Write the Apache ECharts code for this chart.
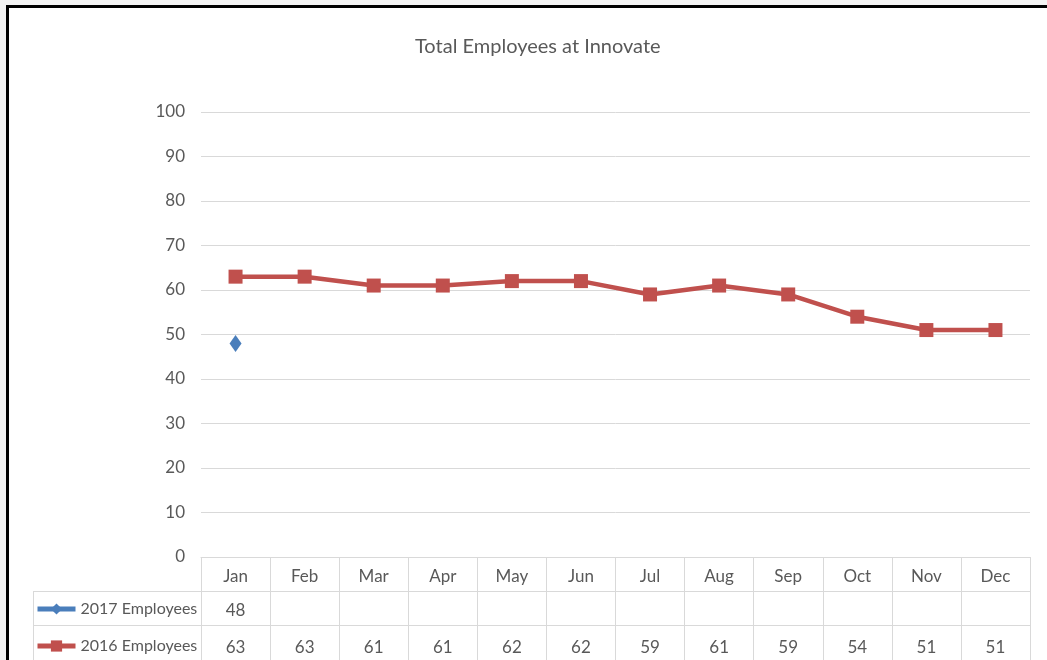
<!DOCTYPE html>
<html><head><meta charset="utf-8">
<script src="https://cdn.jsdelivr.net/npm/echarts@6/dist/echarts.min.js"></script>
<style>html,body{margin:0;padding:0;background:#fff}#c{width:1047px;height:660px}</style>
</head><body><div id="c"></div>
<script>
const months = ['Jan','Feb','Mar','Apr','May','Jun','Jul','Aug','Sep','Oct','Nov','Dec'];
const employees2017 = [48, null, null, null, null, null, null, null, null, null, null, null];
const employees2016 = [63, 63, 61, 61, 62, 62, 59, 61, 59, 54, 51, 51];
const yTicks = {min: 0, max: 100, interval: 10};
const seriesNames = ['2017 Employees', '2016 Employees'];

const FONT = 'Lato, "Open Sans", sans-serif';
const TXT = '#595959';
const GRID = '#d9d9d9';
const C2017 = '#4a7ebb';
const C2016 = '#c0504d';

const chart = echarts.init(document.getElementById('c'), null, {renderer: 'canvas'});
const rowH = 34;
const fmt = arr => (v, i) => (arr[i] === null || arr[i] === undefined) ? '' : String(arr[i]);
const legendCommon = {
  orient: 'horizontal', left: 35, padding: 0,
  itemWidth: 38, itemHeight: 14, itemGap: 5,
  textStyle: {fontFamily: FONT, fontSize: 16, color: TXT},
  lineStyle: {width: 5}
};

chart.setOption({
  backgroundColor: '#ffffff',
  animation: false,
  title: {
    text: 'Total Employees at Innovate',
    left: 410, top: 32,
    textStyle: {fontFamily: FONT, fontSize: 20, fontWeight: 'normal', color: TXT}
  },
  legend: [
    Object.assign({}, legendCommon, {top: 601, data: [seriesNames[0]]}),
    Object.assign({}, legendCommon, {top: 638, data: [seriesNames[1]]})
  ],
  grid: {left: 201, right: 17, top: 112, bottom: 103, containLabel: false},
  xAxis: [
    {
      type: 'category', data: months, position: 'bottom', boundaryGap: true,
      axisLine: {show: true, lineStyle: {color: GRID, width: 1}},
      axisTick: {show: true, interval: 0, length: 103, lineStyle: {color: GRID, width: 1}},
      axisLabel: {interval: 0, margin: 20, verticalAlign: 'middle', fontFamily: FONT, fontSize: 17, color: TXT},
      splitLine: {show: false}
    },
    {
      type: 'category', data: months, position: 'bottom', offset: rowH, boundaryGap: true,
      axisLine: {show: true, lineStyle: {color: GRID, width: 1}},
      axisTick: {show: false},
      axisLabel: {interval: 0, margin: 20, verticalAlign: 'middle', fontFamily: FONT, fontSize: 17, color: TXT, formatter: fmt(employees2017)},
      splitLine: {show: false}
    },
    {
      type: 'category', data: months, position: 'bottom', offset: rowH * 2, boundaryGap: true,
      axisLine: {show: true, lineStyle: {color: GRID, width: 1}},
      axisTick: {show: false},
      axisLabel: {interval: 0, margin: 23, verticalAlign: 'middle', fontFamily: FONT, fontSize: 17, color: TXT, formatter: fmt(employees2016)},
      splitLine: {show: false}
    }
  ],
  yAxis: {
    type: 'value', min: yTicks.min, max: yTicks.max, interval: yTicks.interval,
    axisLine: {show: false}, axisTick: {show: false},
    axisLabel: {margin: 16, fontFamily: FONT, fontSize: 17, color: TXT},
    splitLine: {show: true, lineStyle: {color: GRID, width: 1}}
  },
  series: [
    {
      name: seriesNames[0], type: 'line', xAxisIndex: 0, data: employees2017,
      symbol: 'diamond', symbolSize: [12, 17], showSymbol: true, showAllSymbol: true,
      connectNulls: false,
      itemStyle: {color: C2017},
      lineStyle: {color: C2017, width: 4.5}
    },
    {
      name: seriesNames[1], type: 'line', xAxisIndex: 0, data: employees2016,
      symbol: 'rect', symbolSize: 14, showSymbol: true, showAllSymbol: true,
      itemStyle: {color: C2016},
      lineStyle: {color: C2016, width: 4.5}
    }
  ],
  graphic: [
    {type: 'rect', shape: {x: 0, y: 0, width: 1047, height: 5}, style: {fill: '#f3f3f3'}, silent: true},
    {type: 'rect', shape: {x: 0, y: 0, width: 6, height: 660}, style: {fill: '#f3f3f3'}, silent: true},
    {type: 'rect', shape: {x: 6, y: 5, width: 1041, height: 3}, style: {fill: '#000'}, silent: true},
    {type: 'rect', shape: {x: 6, y: 5, width: 3, height: 655}, style: {fill: '#000'}, silent: true},
    {type: 'line', shape: {x1: 33, y1: 591.5, x2: 201, y2: 591.5}, style: {stroke: GRID, lineWidth: 1}, silent: true},
    {type: 'line', shape: {x1: 33, y1: 625.5, x2: 201, y2: 625.5}, style: {stroke: GRID, lineWidth: 1}, silent: true},
    {type: 'line', shape: {x1: 33.5, y1: 591, x2: 33.5, y2: 660}, style: {stroke: GRID, lineWidth: 1}, silent: true}
  ]
});
</script>
</body></html>
